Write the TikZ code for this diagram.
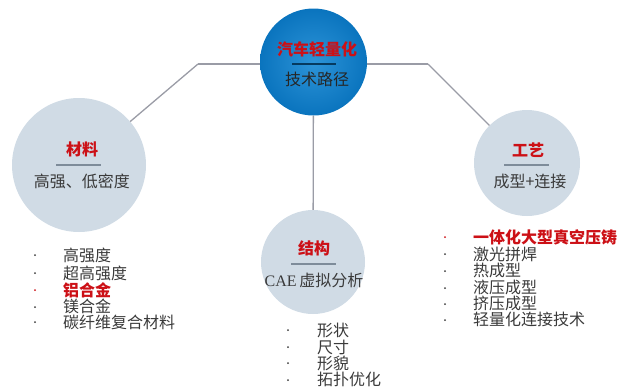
\documentclass[tikz,border=0pt]{standalone}
\usepackage{fontspec}
\setmainfont{Liberation Serif}
\newfontfamily\cjk{Noto Sans CJK SC}
\definecolor{hubblue}{HTML}{1A8AD4}
\definecolor{hubdark}{HTML}{0A74BE}
\definecolor{circgray}{HTML}{D0DBE5}
\definecolor{linegray}{HTML}{9A9CA6}
\definecolor{titlered}{HTML}{CC1016}
\definecolor{txtgray}{HTML}{3A3A3A}
\definecolor{sepgray}{HTML}{7E8C9A}
\tikzset{
  hub/.style={circle, minimum size=107pt, inner sep=0pt, shading=radial, inner color=hubblue!92!white, outer color=hubdark},
  branch/.style={circle, fill=circgray, inner sep=0pt},
  conn/.style={draw=linegray, line width=1.3pt},
  ttl/.style={font=\cjk\bfseries\fontsize{16}{18}\selectfont, text=titlered, anchor=center},
  sub/.style={font=\cjk\fontsize{16}{18}\selectfont, text=txtgray, anchor=center},
  item/.style={font=\cjk\fontsize{16}{17}\selectfont, text=txtgray, anchor=west, inner sep=0pt},
  itemred/.style={item, text=titlered, font=\cjk\bfseries\fontsize{16}{17}\selectfont},
  sep/.style={draw=sepgray, line width=1.4pt},
}
\begin{document}
\begin{tikzpicture}[x=1pt,y=-1pt]
\useasboundingbox (0,0) rectangle (619,386);
% connectors (behind circles)
\coordinate (jl) at (198,64);
\coordinate (jr) at (428,64);
\node[branch, minimum size=134pt] (mat) at (79,165) {};
\node[branch, minimum size=106pt] (craft) at (527,163) {};
\node[branch, minimum size=104pt] (str) at (313,262) {};
\draw[conn] (jl) -- (jr);
\draw[conn] (jl) -- (mat);
\draw[conn] (jr) -- (craft);
\node[hub] (hub) at (313.5,62) {};
\draw[conn] (hub) -- (str);
% hub text
\node[ttl] (hubt) at (317,49) {汽车轻量化};
\draw[sep, draw=hubdark!50!black] (292,64) -- (336,64);
\node[sub, text=black!85] (hubs) at (317,79) {技术路径};
% material
\node[ttl] (matt) at (82,149) {材料};
\draw[sep] (56,165) -- (101,165);
\node[sub] (mats) at (82,181) {高强、低密度};
% craft
\node[ttl] (craftt) at (528,150) {工艺};
\draw[sep] (504,165) -- (549,165);
\node[sub] (crafts) at (530,181) {成型+连接};
% structure
\node[ttl] (strt) at (314,248) {结构};
\draw[sep] (291,264) -- (336,264);
\node[sub] (strs) at (314,280) {\rmfamily CAE\,\cjk 虚拟分析};
% material list
\foreach \y/\c in {255/txtgray,273/txtgray,290/titlered,307/txtgray,322/txtgray}
  \fill[\c] (35,\y) circle (1pt);
\node[item] (m1) at (63,255) {高强度};
\node[item] (m2) at (63,273) {超高强度};
\node[itemred] (m3) at (63,290) {铝合金};
\node[item] (m4) at (63,306) {镁合金};
\node[item] (m5) at (63,322) {碳纤维复合材料};
% structure list
\foreach \y in {330,347,363,380}
  \fill[txtgray] (288,\y) circle (1pt);
\node[item] (s1) at (317,330) {形状};
\node[item] (s2) at (317,347) {尺寸};
\node[item] (s3) at (317,363) {形貌};
\node[item] (s4) at (317,379) {拓扑优化};
% craft list
\foreach \y/\c in {237/titlered,254/txtgray,271/txtgray,288/txtgray,304/txtgray,320/txtgray}
  \fill[\c] (445,\y) circle (1pt);
\node[itemred] (c1) at (473,237) {一体化大型真空压铸};
\node[item] (c2) at (473,254) {激光拼焊};
\node[item] (c3) at (473,270) {热成型};
\node[item] (c4) at (473,287) {液压成型};
\node[item] (c5) at (473,303) {挤压成型};
\node[item] (c6) at (473,319) {轻量化连接技术};
\end{tikzpicture}
\end{document}
